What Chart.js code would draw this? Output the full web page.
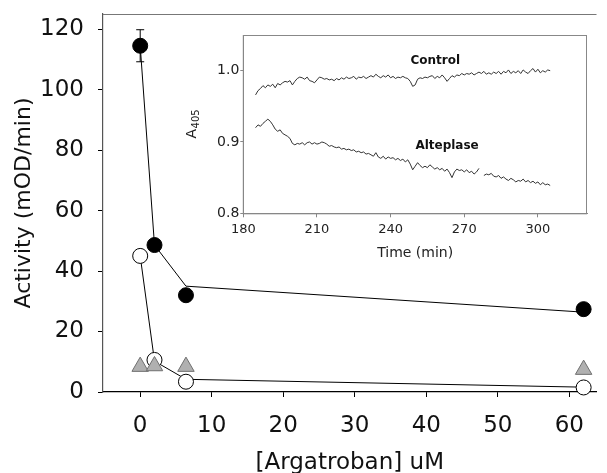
<!DOCTYPE html>
<html>
<head>
<meta charset="utf-8">
<script src="https://cdn.jsdelivr.net/npm/chart.js@4/dist/chart.umd.min.js"></script>
<style>
  html, body { margin: 0; padding: 0; background: #fff; }
  #wrap { position: relative; width: 607px; height: 473px; overflow: hidden; }
  #main { position: absolute; left: 0; top: 0; }
  #inset { position: absolute; left: 185px; top: 25px; }
</style>
</head>
<body>
<div id="wrap">
  <canvas id="main" width="607" height="473"></canvas>
  <canvas id="inset" width="404" height="245"></canvas>
</div>
<script>
// main panel: activity vs argatroban
const argatroban = [0, 2, 6.4, 62];
const filledActivity = [114.5, 48.6, 32, 27.4];
const filledFit = [114.5, 48.6, 35, 26.4];
const filledErr = [5.3, 0, 0, 0];
const openActivity = [45, 10.6, 3.4, 1.5];
const openFit = [45, 10.2, 4.2, 1.6];
const triangleActivity = [8.4, 8.6, 8.4, 7.4];
const xTicks = [0, 10, 20, 30, 40, 50, 60];
const yTicks = [0, 20, 40, 60, 80, 100, 120];

// inset: A405 vs time
const timeStart = 185;
const controlA405 = [
  .966, .972, .975, .979, .976, .980, .978, .981, .976, .982,
  .980, .983, .985, .984, .986, .980, .985, .989, .991, .990,
  .988, .991, .986, .985, .983, .987, .991, .990, .988, .989,
  .987, .988, .986, .989, .987, .990, .988, .991, .989, .990,
  .992, .988, .991, .990, .992, .989, .991, .993, .991, .995,
  .992, .990, .993, .991, .994, .990, .992, .989, .991, .990,
  .992, .990, .989, .985, .978, .980, .988, .990, .989, .991,
  .990, .992, .993, .989, .992, .990, .994, .990, .985, .989,
  .993, .991, .994, .993, .996, .994, .996, .995, .997, .994,
  .996, .998, .996, .999, .995, .997, .995, .998, .996, .999,
  .995, .999, .997, 1.001, .996, .999, .997, 1.000, .996, 1.001,
  .998, .996, 1.000, 1.003, .998, 1.002, .997, 1.000, .998, 1.001,
  1.000
];
const alteplaseA405 = [
  .920, .924, .922, .926, .929, .932, .929, .924, .918, .915,
  .917, .912, .910, .908, .905, .898, .896, .898, .897, .899,
  .896, .899, .900, .897, .899, .897, .898, .900, .899, .897,
  .894, .895, .893, .892, .893, .890, .891, .889, .890, .888,
  .889, .886, .887, .885, .886, .883, .884, .882, .880, .885,
  .879, .877, .880, .876, .879, .877, .878, .875, .877, .874,
  .876, .872, .875, .869, .861, .866, .871, .867, .864, .866,
  .864, .868, .865, .862, .864, .861, .863, .859, .862, .857,
  .850, .858, .862, .860, .861, .858, .861, .857, .859, .855,
  .858, .863, null, .853, .855, .854, .856, .852, .851, .853,
  .849, .851, .848, .846, .849, .847, .844, .846, .845, .848,
  .844, .846, .843, .845, .842, .844, .840, .843, .840, .841,
  .839
];
const insetXTicks = [180, 210, 240, 270, 300];
const insetYTicks = [0.8, 0.9, 1.0];
const insetLabels = ['Control', 'Alteplase'];
const insetLabelX = [258.2, 263];
const insetLabelY = [1.014, 0.894];

const FONT = 'DejaVu Sans';
const pts = (ys) => argatroban.map((x, i) => ({ x: x, y: ys[i] }));
const series = (vals) => vals.map((v, i) => ({ x: timeStart + i, y: v }));

const mainFrame = {
    id: 'mainFrame',
    beforeDatasetsDraw(chart) {
        const { ctx, chartArea, scales: { x, y } } = chart;
        ctx.save();
        ctx.strokeStyle = '#777';
        ctx.lineWidth = 1.2;
        ctx.beginPath();
        ctx.moveTo(chartArea.left, chartArea.top + 0.5);
        ctx.lineTo(chartArea.right, chartArea.top + 0.5);
        ctx.stroke();
        // error bars on the filled series
        ctx.strokeStyle = '#000';
        ctx.lineWidth = 1;
        filledErr.forEach((e, i) => {
            if (!e) return;
            const px = x.getPixelForValue(argatroban[i]);
            const top = y.getPixelForValue(filledActivity[i] + e);
            const bot = y.getPixelForValue(filledActivity[i] - e);
            ctx.beginPath();
            ctx.moveTo(px, top); ctx.lineTo(px, bot);
            ctx.moveTo(px - 4, top); ctx.lineTo(px + 4, top);
            ctx.moveTo(px - 4, bot); ctx.lineTo(px + 4, bot);
            ctx.stroke();
        });
        ctx.restore();
    }
};

new Chart(document.getElementById('main'), {
    type: 'scatter',
    data: {
        datasets: [
            { data: pts(filledActivity), order: 0, pointRadius: 7.5, pointBackgroundColor: '#000', pointBorderColor: '#000', pointBorderWidth: 1, clip: false },
            { data: pts(triangleActivity), order: 1, pointStyle: 'triangle', pointRadius: 9.5, pointBackgroundColor: '#b0b0b0', pointBorderColor: '#707070', pointBorderWidth: 1, clip: false },
            { data: pts(openActivity), order: 2, pointRadius: 7.5, pointBackgroundColor: '#fff', pointBorderColor: '#000', pointBorderWidth: 1, clip: false },
            { data: pts(filledFit), order: 3, showLine: true, pointRadius: 0, borderColor: '#000', borderWidth: 1 },
            { data: pts(openFit), order: 4, showLine: true, pointRadius: 0, borderColor: '#000', borderWidth: 1 }
        ]
    },
    options: {
        responsive: false,
        animation: false,
        events: [],
        layout: { padding: { top: 14, right: 0, left: 0, bottom: 0 } },
        plugins: { legend: { display: false }, tooltip: { enabled: false } },
        scales: {
            x: {
                type: 'linear', min: -5.2, max: 63.8,
                afterBuildTicks: (s) => { s.ticks = xTicks.map(v => ({ value: v })); },
                afterFit: (s) => { s.height = 81; s.paddingLeft = 0; s.paddingRight = 0; },
                grid: { drawOnChartArea: false, tickLength: 5, tickColor: '#000', tickWidth: 1 },
                border: { color: '#000', width: 1.2 },
                ticks: { color: '#111', font: { family: FONT, size: 23 }, padding: 15, maxRotation: 0 },
                title: { display: true, text: '[Argatroban] uM', color: '#111', font: { family: FONT, size: 23, lineHeight: 1 }, padding: { top: 0, bottom: -2 } }
            },
            y: {
                type: 'linear', min: 0, max: 125,
                afterBuildTicks: (s) => { s.ticks = yTicks.map(v => ({ value: v })); },
                afterFit: (s) => { s.width = 103; s.paddingTop = 0; s.paddingBottom = 0; },
                grid: { drawOnChartArea: false, tickLength: 5, tickColor: '#000', tickWidth: 1 },
                border: { color: '#555', width: 1.2 },
                ticks: { color: '#111', font: { family: FONT, size: 23 }, padding: 14 },
                title: { display: true, text: 'Activity (mOD/min)', color: '#111', font: { family: FONT, size: 22, lineHeight: 1 }, padding: { top: 13, bottom: 0 } }
            }
        }
    },
    plugins: [mainFrame]
});

const insetFrame = {
    id: 'insetFrame',
    afterDraw(chart) {
        const { ctx, chartArea, scales: { x, y } } = chart;
        ctx.save();
        ctx.strokeStyle = '#888';
        ctx.lineWidth = 1;
        ctx.strokeRect(chartArea.left, chartArea.top + 0.5, chartArea.right - chartArea.left - 0.5, chartArea.bottom - chartArea.top);
        ctx.fillStyle = '#111';
        ctx.font = 'bold 12px "' + FONT + '"';
        ctx.textAlign = 'center';
        ctx.textBaseline = 'middle';
        insetLabels.forEach((t, i) => {
            ctx.fillText(t, x.getPixelForValue(insetLabelX[i]), y.getPixelForValue(insetLabelY[i]));
        });

        // y title: A with subscript 405, rotated
        const big = '14px "' + FONT + '"';
        const small = '10px "' + FONT + '"';
        ctx.font = big;
        const wA = ctx.measureText('A').width;
        ctx.font = small;
        const wSub = ctx.measureText('405').width;
        const cy = (chartArea.top + chartArea.bottom) / 2;
        ctx.translate(7, cy);
        ctx.rotate(-Math.PI / 2);
        ctx.textAlign = 'left';
        ctx.textBaseline = 'middle';
        ctx.fillStyle = '#222';
        const start = -(wA + wSub) / 2;
        ctx.font = big;
        ctx.fillText('A', start, 0);
        ctx.font = small;
        ctx.fillText('405', start + wA + 0.5, 4);
        ctx.restore();
    }
};

new Chart(document.getElementById('inset'), {
    type: 'line',
    data: {
        datasets: [
            { data: series(controlA405), borderColor: '#333', borderWidth: 1, pointRadius: 0, tension: 0, spanGaps: false },
            { data: series(alteplaseA405), borderColor: '#333', borderWidth: 1, pointRadius: 0, tension: 0, spanGaps: false }
        ]
    },
    options: {
        responsive: false,
        animation: false,
        events: [],
        layout: { padding: { top: 10, right: 2, left: 0, bottom: 0 } },
        plugins: { legend: { display: false }, tooltip: { enabled: false } },
        scales: {
            x: {
                type: 'linear', min: 180, max: 320,
                afterBuildTicks: (s) => { s.ticks = insetXTicks.map(v => ({ value: v })); },
                afterFit: (s) => { s.height = 56.7; s.paddingLeft = 0; s.paddingRight = 0; },
                grid: { drawOnChartArea: false, tickLength: 4, tickColor: '#888' },
                border: { color: '#888', width: 1 },
                ticks: { color: '#222', font: { family: FONT, size: 13 }, padding: 5, maxRotation: 0 },
                title: { display: true, text: 'Time (min)', color: '#222', font: { family: FONT, size: 14 }, padding: { top: 0, bottom: 8 } }
            },
            y: {
                type: 'linear', min: 0.8, max: 1.05,
                afterBuildTicks: (s) => { s.ticks = insetYTicks.map(v => ({ value: v })); },
                afterFit: (s) => { s.width = 58.3; s.paddingTop = 0; s.paddingBottom = 0; },
                grid: { drawOnChartArea: false, tickLength: 3, tickColor: '#888' },
                border: { color: '#888', width: 1 },
                ticks: { color: '#222', font: { family: FONT, size: 14 }, padding: 1, callback: (v) => v.toFixed(1) }
            }
        }
    },
    plugins: [insetFrame]
});
</script>
</body>
</html>
